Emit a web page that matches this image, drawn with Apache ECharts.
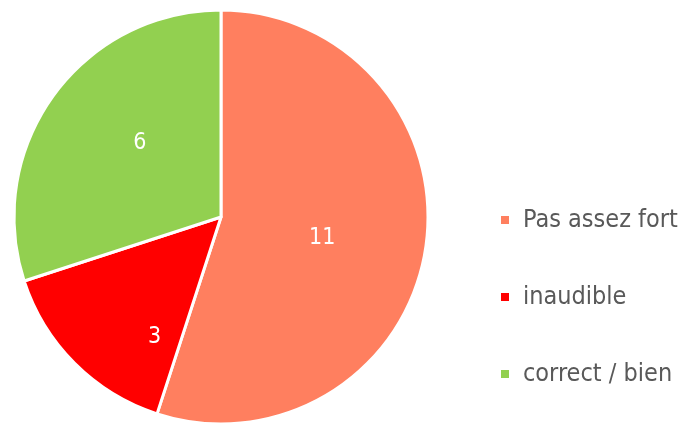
<!DOCTYPE html>
<html>
<head>
<meta charset="utf-8">
<script src="https://cdn.jsdelivr.net/npm/echarts@6/dist/echarts.min.js"></script>
<style>
  html, body { margin: 0; padding: 0; background: #fff; }
  #chart { width: 698px; height: 427px; }
</style>
</head>
<body>
<div id="chart"></div>
<script>
// données
var categories = ['Pas assez fort', 'inaudible', 'correct / bien'];
var values = [11, 3, 6];
var colors = ['#FF7F5F', '#FF0000', '#92D050'];

// petits décalages des étiquettes (placement type Excel)
var labelShift = [[-4, 4], [9, 45], [5, -11]];

var font = '"DejaVu Sans Condensed", "Liberation Sans Narrow", sans-serif';

var pieData = [];
for (var i = 0; i < categories.length; i++) {
    pieData.push({ name: categories[i], value: values[i], itemStyle: { color: colors[i] } });
}

var chart = echarts.init(document.getElementById('chart'));
chart.setOption({
    animation: false,
    legend: {
        orient: 'vertical',
        left: 494,
        top: 200,
        icon: 'rect',
        itemWidth: 10,
        itemHeight: 10,
        itemGap: 47,
        textStyle: {
            color: '#595959',
            fontSize: 25,
            fontFamily: font,
            lineHeight: 30,
            padding: [0, 0, 0, 8]
        },
        data: categories
    },
    series: [{
        type: 'pie',
        center: [221, 217],
        radius: [0, 207],
        startAngle: 90,
        clockwise: true,
        itemStyle: { borderColor: '#fff', borderWidth: 3 },
        label: {
            show: true,
            position: 'inside',
            formatter: '{c}',
            color: '#fff',
            fontSize: 23,
            fontFamily: font
        },
        labelLine: { show: false },
        labelLayout: function (params) {
            var s = labelShift[params.dataIndex];
            return { dx: s[0], dy: s[1] };
        },
        data: pieData
    }]
});
</script>
</body>
</html>
